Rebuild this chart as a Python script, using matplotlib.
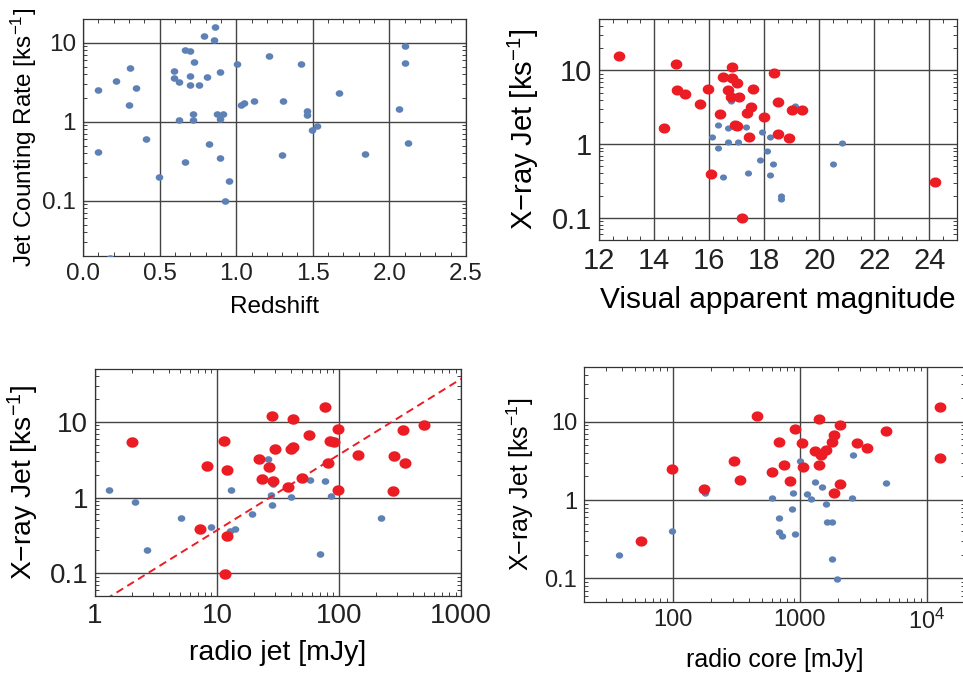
import numpy as np
import matplotlib
matplotlib.use('Agg')
import matplotlib.pyplot as plt
from matplotlib.path import Path
from matplotlib.ticker import FixedLocator, FixedFormatter, LogLocator, MultipleLocator, NullFormatter

plt.rcParams['font.family'] = ['Liberation Sans', 'DejaVu Sans']
plt.rcParams['mathtext.fontset'] = 'custom'
plt.rcParams['mathtext.rm'] = 'Liberation Sans'
plt.rcParams['mathtext.it'] = 'Liberation Sans'
plt.rcParams['mathtext.default'] = 'regular'

# --- panel 1: redshift vs jet counting rate
z_red = [0.10, 0.096, 0.213, 0.304, 0.298, 0.346, 0.411, 0.493, 0.174, 0.591, 0.596,
         0.624, 0.624, 0.665, 0.696, 0.722, 0.70, 0.698, 0.754, 0.715, 0.717, 0.665,
         0.793, 0.863, 0.857, 0.811, 0.893, 0.872, 0.915, 0.893, 0.82, 0.896, 0.954,
         0.930, 1.002, 1.03, 1.05, 1.115, 1.217, 1.304, 1.296, 1.42, 1.459, 1.465,
         1.493, 1.526, 1.674, 1.843, 2.061, 2.102, 2.104, 2.122]
rate = [2.5, 0.41, 3.24, 4.73, 1.64, 2.67, 0.60, 0.20, 0.019, 4.34, 3.54,
        3.21, 1.04, 8.07, 7.85, 5.64, 3.78, 2.88, 2.88, 1.25, 1.06, 0.31,
        12.1, 15.8, 10.8, 3.68, 4.29, 1.25, 1.25, 1.08, 0.53, 0.35, 0.177,
        0.098, 5.37, 1.65, 1.75, 1.81, 6.78, 1.81, 0.375, 5.37, 1.38, 1.21,
        0.79, 0.89, 2.28, 0.39, 1.47, 9.16, 5.47, 0.54]

# --- panel 2: visual magnitude vs X-ray jet
vmag_red = [12.71, 14.80, 14.83, 15.14, 14.35, 15.65, 15.96, 16.49, 16.84, 16.84, 17.0,
            16.68, 16.81, 17.07, 17.59, 16.38, 17.38, 17.52, 16.93, 17.02, 17.46, 18.0,
            18.34, 18.51, 18.51, 18.90, 19.0, 19.37, 16.08, 17.21, 24.20]
xray_vmag_red = [15.8, 12.2, 5.42, 4.74, 1.66, 3.55, 5.59, 8.13, 11.0, 7.88, 6.81,
                 5.37, 4.36, 4.36, 5.53, 2.54, 2.68, 3.2, 1.83, 1.79, 1.26, 2.32,
                 9.2, 3.73, 1.39, 1.23, 2.91, 2.91, 0.39, 0.099, 0.31]
vmag_blue = [16.78, 19.12, 16.31, 16.69, 17.34, 16.10, 17.93, 18.20, 16.31, 16.69, 17.03,
             18.09, 17.84, 18.32, 20.50, 20.81, 16.51, 17.40, 18.20, 18.61, 18.61]
xray_vmag_blue = [3.85, 3.26, 1.81, 1.66, 1.73, 1.26, 1.48, 1.26, 0.90, 1.07, 1.07,
                  0.80, 0.60, 0.54, 0.54, 1.04, 0.36, 0.41, 0.38, 0.20, 0.18]

# --- panel 3: radio jet vs X-ray jet
rjet_red = [2.02, 8.2, 7.2, 11.3, 12.1, 12.1, 11.6, 28.3, 22.2, 26.9, 23.5, 28.5, 29.6,
            38.1, 40.3, 42.1, 41.6, 49.6, 56.6, 76.5, 81.5, 84.6, 90.6, 98.4, 97.1,
            143, 279, 283, 333, 346, 492]
xray_rjet_red = [5.35, 2.65, 0.39, 5.52, 2.28, 0.31, 0.097, 12.1, 3.19, 2.52, 1.77, 1.66, 4.32,
                 1.37, 4.32, 4.69, 10.8, 1.80, 6.76, 15.7, 2.88, 5.63, 5.41, 8.12, 1.25,
                 3.67, 1.21, 3.53, 7.87, 2.88, 9.17]
rjet_blue = [1.30, 2.13, 2.65, 5.03, 8.91, 13.1, 12.7, 14.0, 19.5, 26.1, 27.8, 28.0,
             28.5, 40.1, 57.7, 77, 69.2, 86.2, 219]
xray_rjet_blue = [1.25, 0.885, 0.20, 0.53, 0.41, 1.25, 0.36, 0.38, 0.60, 3.22, 1.07, 0.79,
                  1.49, 1.03, 1.73, 1.64, 0.177, 1.06, 0.53]
fit_x = [1, 1000]
fit_slope = 0.037

# --- panel 4: radio core vs X-ray jet
rcore_red = [56.6, 98.8, 175, 301, 336, 460, 608, 682, 751, 834, 924, 1050, 1070, 1330,
             1430, 1470, 1420, 1600, 1810, 1850, 1850, 2090, 2070, 2800, 3360, 4800,
             12600, 12700]
xray_rcore_red = [0.30, 2.48, 1.37, 3.13, 1.80, 12.0, 2.27, 5.46, 2.84, 1.76, 8.0, 5.3, 2.65, 4.28,
                  10.7, 3.73, 2.84, 4.32, 5.52, 6.70, 1.24, 9.07, 1.61, 5.36, 4.67, 7.69,
                  15.5, 3.49]
rcore_blue = [37.9, 98.8, 181, 608, 690, 690, 726, 881, 865, 918, 1010, 1150, 1220, 1310,
              1510, 1620, 1650, 1810, 1800, 1960, 2560, 2620, 4770]
xray_rcore_blue = [0.20, 0.40, 1.23, 1.05, 0.59, 0.39, 0.35, 1.23, 0.78, 0.37, 3.19, 1.19, 1.02, 1.71,
                   1.46, 0.89, 0.53, 0.53, 0.176, 0.098, 1.06, 3.73, 1.63]

BLUE = '#5e81b5'
RED = '#ec1c24'
GRID = '#444444'

t = np.linspace(0, 2 * np.pi, 60)
ellipse = Path(np.column_stack([1.15 * np.cos(t), np.sin(t)]), closed=True)


def style(ax, fs):
    ax.set_yscale('log')
    ax.yaxis.set_major_locator(FixedLocator([0.1, 1, 10]))
    ax.yaxis.set_major_formatter(FixedFormatter(['0.1', '1', '10']))
    ax.yaxis.set_minor_locator(LogLocator(base=10, subs=np.arange(2, 10), numticks=20))
    ax.yaxis.set_minor_formatter(NullFormatter())
    ax.grid(True, which='major', color=GRID, linewidth=1.0)
    ax.set_axisbelow(True)
    ax.tick_params(which='both', direction='in', top=True, right=True, labelsize=fs,
                   colors='#222222', pad=5)
    ax.tick_params(which='major', length=0)
    ax.tick_params(which='minor', length=3, width=0.6)
    for s in ax.spines.values():
        s.set_color('#333333')
        s.set_linewidth(0.9)


fig = plt.figure(figsize=(9.63, 6.73), dpi=100)

# panel 1
ax1 = fig.add_axes([0.0862, 0.6196, 0.3977, 0.3522])
ax1.scatter(z_red, rate, s=30, marker=ellipse, color=BLUE, linewidths=0, zorder=3)
style(ax1, 17.5)
ax1.set_xlim(0, 2.5)
ax1.set_ylim(0.02, 20)
ax1.set_xticks([0, 0.5, 1.0, 1.5, 2.0, 2.5])
ax1.set_xticklabels(['0.0', '0.5', '1.0', '1.5', '2.0', '2.5'])
ax1.xaxis.set_minor_locator(MultipleLocator(0.1))
ax1.set_xlabel('Redshift', fontsize=17.5, labelpad=8)
ax1.set_ylabel('Jet Counting Rate [ks$^{-1}$]', fontsize=17.5, labelpad=2)

# panel 2
ax2 = fig.add_axes([0.622, 0.6434, 0.3718, 0.3284])
ax2.scatter(vmag_blue, xray_vmag_blue, s=26, marker=ellipse, color=BLUE, linewidths=0, zorder=3)
ax2.scatter(vmag_red, xray_vmag_red, s=70, marker=ellipse, color=RED, linewidths=0, zorder=4)
style(ax2, 21)
ax2.set_xlim(12, 25)
ax2.set_ylim(0.05, 50)
ax2.set_xticks([12, 14, 16, 18, 20, 22, 24])
ax2.xaxis.set_minor_locator(MultipleLocator(0.5))
ax2.set_xlabel('Visual apparent magnitude', fontsize=21.5, labelpad=8)
ax2.set_ylabel('X\u2212ray Jet [ks$^{-1}$]', fontsize=21, labelpad=8)

# panel 3
ax3 = fig.add_axes([0.0987, 0.1144, 0.3801, 0.3373])
ax3.scatter(rjet_blue, xray_rjet_blue, s=30, marker=ellipse, color=BLUE, linewidths=0, zorder=3)
ax3.scatter(rjet_red, xray_rjet_red, s=75, marker=ellipse, color=RED, linewidths=0, zorder=4)
ax3.plot(fit_x, [fit_slope * v for v in fit_x], color=RED, linestyle=(0, (4, 2.5)),
         linewidth=1.4, zorder=5)
style(ax3, 20)
ax3.set_xscale('log')
ax3.set_xlim(1, 1000)
ax3.set_ylim(0.05, 50)
ax3.xaxis.set_major_locator(FixedLocator([1, 10, 100, 1000]))
ax3.xaxis.set_major_formatter(FixedFormatter(['1', '10', '100', '1000']))
ax3.xaxis.set_minor_locator(LogLocator(base=10, subs=np.arange(2, 10), numticks=20))
ax3.xaxis.set_minor_formatter(NullFormatter())
ax3.set_xlabel('radio jet [mJy]', fontsize=20.5, labelpad=8)
ax3.set_ylabel('X\u2212ray Jet [ks$^{-1}$]', fontsize=20.3, labelpad=6)

# panel 4
ax4 = fig.add_axes([0.6064, 0.1055, 0.3957, 0.3492])
ax4.scatter(rcore_blue, xray_rcore_blue, s=28, marker=ellipse, color=BLUE, linewidths=0, zorder=3)
ax4.scatter(rcore_red, xray_rcore_red, s=72, marker=ellipse, color=RED, linewidths=0, zorder=4)
style(ax4, 17)
ax4.set_xscale('log')
ax4.set_xlim(20, 20000)
ax4.set_ylim(0.05, 50)
ax4.xaxis.set_major_locator(FixedLocator([100, 1000, 10000]))
ax4.xaxis.set_major_formatter(FixedFormatter(['100', '1000', '$10^4$']))
ax4.xaxis.set_minor_locator(LogLocator(base=10, subs=np.arange(2, 10), numticks=20))
ax4.xaxis.set_minor_formatter(NullFormatter())
ax4.set_xlabel('radio core [mJy]', fontsize=18, labelpad=10)
ax4.set_ylabel('X\u2212ray Jet [ks$^{-1}$]', fontsize=18, labelpad=6)

fig.savefig('out.png', dpi=100)
